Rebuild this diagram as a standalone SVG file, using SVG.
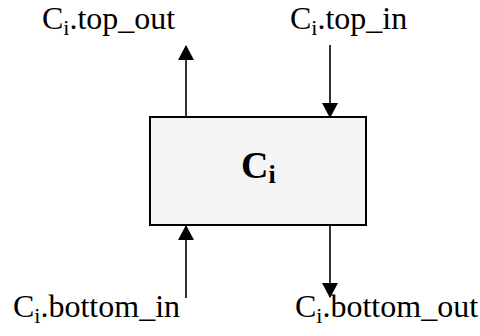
<svg xmlns="http://www.w3.org/2000/svg" width="480" height="336" viewBox="0 0 480 336">
<style>
.lbl{font-family:"Liberation Serif","Times New Roman",serif;font-size:32px;fill:#000}
.sub{font-size:22px}
.title{font-family:"Liberation Serif","Times New Roman",serif;font-size:38px;font-weight:bold;fill:#000}
.tsub{font-size:26px}
.wire{stroke:#000;stroke-width:1.6;fill:none;marker-end:url(#ah)}
.box{fill:#f5f5f5;stroke:#000;stroke-width:2}
</style>
<defs>
<marker id="ah" markerUnits="userSpaceOnUse" markerWidth="16" markerHeight="16" viewBox="0 0 16 16" refX="14" refY="8" orient="auto">
<path d="M0,0 L15,8 L0,16 Z" fill="#000"/>
</marker>
</defs>
<g id="connectors">
<line class="wire" x1="186" y1="117" x2="186" y2="46"/>
<line class="wire" x1="330" y1="45" x2="330" y2="117"/>
<line class="wire" x1="186" y1="298" x2="186" y2="226"/>
<line class="wire" x1="330" y1="226" x2="330" y2="297"/>
</g>
<g id="node-Ci">
<rect class="box" x="150" y="117" width="216" height="108"/>
<text class="title" x="241" y="178">C<tspan class="tsub" dy="5">i</tspan></text>
</g>
<g id="label-top-out">
<text class="lbl" x="42" y="29">C<tspan class="sub" dy="6">i</tspan><tspan dy="-6">.top_out</tspan></text>
</g>
<g id="label-top-in">
<text class="lbl" x="290" y="29">C<tspan class="sub" dy="6">i</tspan><tspan dy="-6">.top_in</tspan></text>
</g>
<g id="label-bottom-in">
<text class="lbl" x="13" y="317">C<tspan class="sub" dy="6">i</tspan><tspan dy="-6">.bottom_in</tspan></text>
</g>
<g id="label-bottom-out">
<text class="lbl" x="295" y="317">C<tspan class="sub" dy="6">i</tspan><tspan dy="-6">.bottom_out</tspan></text>
</g>
</svg>
